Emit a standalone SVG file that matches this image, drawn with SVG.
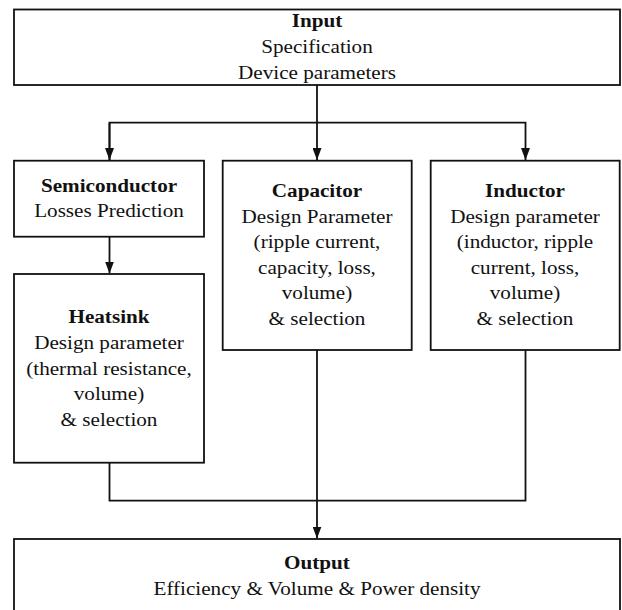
<svg xmlns="http://www.w3.org/2000/svg" width="622" height="610" viewBox="0 0 622 610">
<style>
.box{fill:#fff;stroke:#111;stroke-width:1.8}
.ln{fill:none;stroke:#111;stroke-width:1.8}
text{font-family:"Liberation Serif","Times New Roman",serif;font-size:19.5px;fill:#111;text-anchor:middle}
.b{font-weight:bold}
</style>
<defs>
<marker id="ah" markerWidth="12" markerHeight="9" refX="12" refY="4.5" orient="auto" markerUnits="userSpaceOnUse">
<path d="M0,0 L12,4.5 L0,9 Z" fill="#111"/>
</marker>
</defs>
<rect width="622" height="610" fill="#fff"/>
<g id="connectors">
<path class="ln" d="M317,85 V160" marker-end="url(#ah)"/>
<path class="ln" d="M109.5,160 V122.7 H525.5 V160" marker-end="url(#ah)"/>
<path class="ln" d="M109.5,122.7 V160" marker-end="url(#ah)"/>
<path class="ln" d="M109.5,236.7 V273.5" marker-end="url(#ah)"/>
<path class="ln" d="M109.5,462.7 V500.7 H525.5 V350"/>
<path class="ln" d="M317,350 V538.5" marker-end="url(#ah)"/>
</g>
<g id="input">
<rect class="box" x="14" y="9.5" width="606" height="75.5"/>
<g transform="translate(317,0) scale(1.085,1)">
<text class="b" x="0" y="27">Input</text>
<text x="0" y="53">Specification</text>
<text x="0" y="79">Device parameters</text>
</g>
</g>
<g id="semiconductor">
<rect class="box" x="14" y="160.7" width="190" height="76"/>
<g transform="translate(109,0) scale(1.085,1)">
<text class="b" x="0" y="191.7">Semiconductor</text>
<text x="0" y="216.7">Losses Prediction</text>
</g>
</g>
<g id="capacitor">
<rect class="box" x="222.7" y="160.7" width="189" height="189.3"/>
<g transform="translate(317,0) scale(1.085,1)">
<text class="b" x="0" y="197">Capacitor</text>
<text x="0" y="222.6">Design Parameter</text>
<text x="0" y="248.2">(ripple current,</text>
<text x="0" y="273.8">capacity, loss,</text>
<text x="0" y="299.4">volume)</text>
<text x="0" y="325">&amp; selection</text>
</g>
</g>
<g id="inductor">
<rect class="box" x="430.7" y="160.7" width="189" height="189.3"/>
<g transform="translate(525,0) scale(1.085,1)">
<text class="b" x="0" y="197">Inductor</text>
<text x="0" y="222.6">Design parameter</text>
<text x="0" y="248.2">(inductor, ripple</text>
<text x="0" y="273.8">current, loss,</text>
<text x="0" y="299.4">volume)</text>
<text x="0" y="325">&amp; selection</text>
</g>
</g>
<g id="heatsink">
<rect class="box" x="14" y="274" width="190" height="188.7"/>
<g transform="translate(109,0) scale(1.085,1)">
<text class="b" x="0" y="323.3">Heatsink</text>
<text x="0" y="349">Design parameter</text>
<text x="0" y="374.6">(thermal resistance,</text>
<text x="0" y="400.2">volume)</text>
<text x="0" y="425.8">&amp; selection</text>
</g>
</g>
<g id="output">
<rect class="box" x="14" y="539" width="606" height="80"/>
<g transform="translate(317,0) scale(1.085,1)">
<text class="b" x="0" y="569">Output</text>
<text x="0" y="595">Efficiency &amp; Volume &amp; Power density</text>
</g>
</g>
</svg>
